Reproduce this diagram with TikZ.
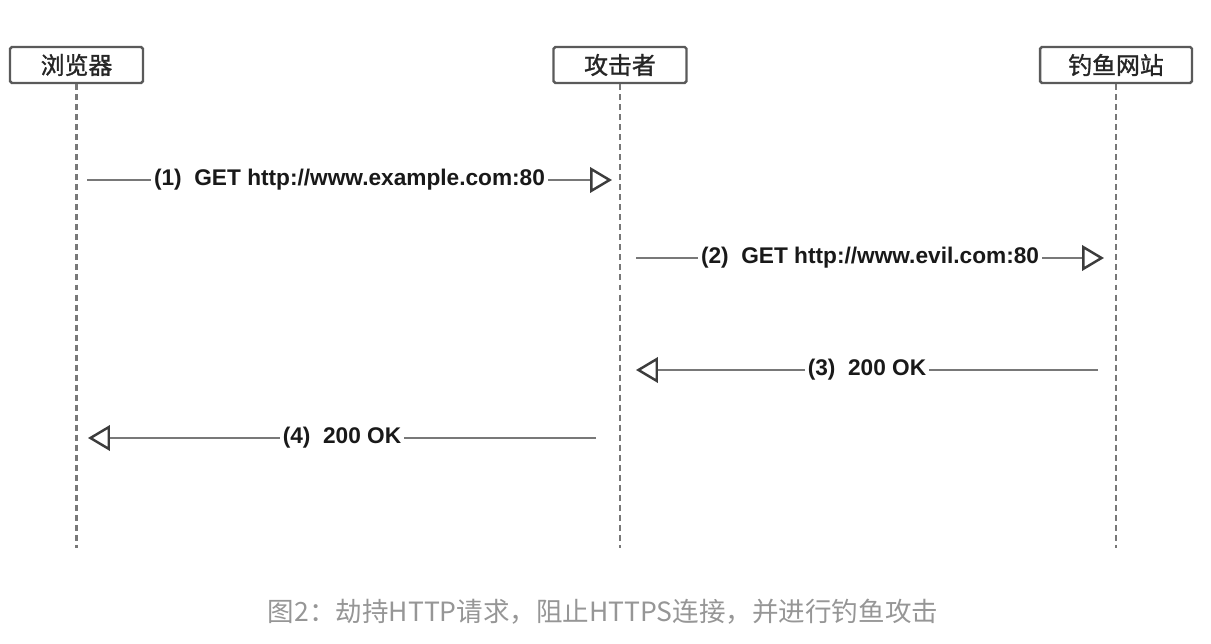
\documentclass[tikz,border=0pt]{standalone}
\usepackage{fontspec}
\setmainfont{Liberation Sans}
\newfontfamily\cjk{Noto Sans CJK SC}
\newfontfamily\cjkbox[FakeBold=1.2]{Noto Sans CJK SC}
\usetikzlibrary{arrows.meta}
\definecolor{boxgray}{RGB}{90,90,90}
\definecolor{linegray}{RGB}{120,120,120}
\definecolor{tipgray}{RGB}{60,60,60}
\definecolor{capgray}{RGB}{150,150,150}

\begin{document}
\begin{tikzpicture}[x=0.02cm,y=-0.02cm,
  actor/.style={draw=boxgray,line width=1.4pt,rounded corners=1pt,minimum height=0.72cm,
    inner sep=0pt,text=black!85,font=\cjkbox\fontsize{13.6}{15}\selectfont},
  life/.style={draw=linegray,line width=1.6pt,dash pattern=on 3.4pt off 2.3pt},
  msg/.style={draw=linegray,line width=1.4pt,
    -{Triangle[open,length=12.5pt,width=14.5pt,color=tipgray]}},
  lbl/.style={fill=white,inner sep=1.5pt,text=black!90,font=\bfseries\fontsize{12.9}{14}\selectfont}]
\path[use as bounding box] (0,0) rectangle (1211,644);
% actors
\node[actor,minimum width=2.66cm] (browser) at (76.5,65) {浏览器};
\node[actor,minimum width=2.66cm] (attacker) at (620,65) {攻击者};
\node[actor,minimum width=3.04cm] (phish) at (1116,65) {钓鱼网站};
\coordinate (browserend) at (76.5,548);
\coordinate (attackerend) at (620,548);
\coordinate (phishend) at (1116,548);
\draw[life] (browser.south) -- (browserend);
\draw[life] (attacker.south) -- (attackerend);
\draw[life] (phish.south) -- (phishend);
% messages
\coordinate (m1a) at (87,180);
\coordinate (m1b) at (612,180);
\coordinate (m2a) at (636,258);
\coordinate (m2b) at (1104,258);
\coordinate (m3a) at (1098,370);
\coordinate (m3b) at (636,370);
\coordinate (m4a) at (596,438);
\coordinate (m4b) at (88,438);
\draw[msg] (m1a) -- (m1b) node[lbl,midway] (l1) {(1)\ \ GET http://www.example.com:80};
\draw[msg] (m2a) -- (m2b) node[lbl,midway] (l2) {(2)\ \ GET http://www.evil.com:80};
\draw[msg] (m3a) -- (m3b) node[lbl,midway] (l3) {(3)\ \ 200 OK};
\draw[msg] (m4a) -- (m4b) node[lbl,midway] (l4) {(4)\ \ 200 OK};
% caption
\node[text=capgray,font=\cjk\fontsize{15.1}{17}\selectfont] (caption) at (603,612)
  {图2：劫持HTTP请求，阻止HTTPS连接，并进行钓鱼攻击};
\end{tikzpicture}
\end{document}
